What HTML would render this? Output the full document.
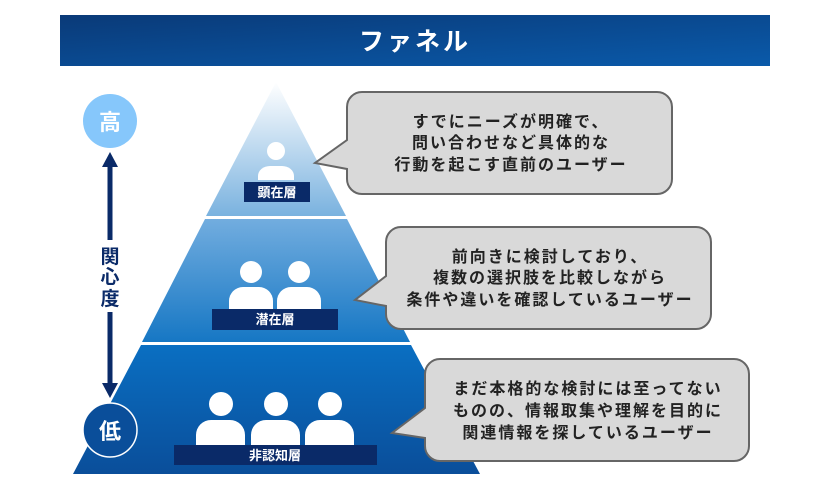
<!DOCTYPE html>
<html><head><meta charset="utf-8"><style>
html,body{margin:0;padding:0;background:#fff;}
svg{display:block;font-family:"Liberation Sans","Noto Sans CJK JP",sans-serif;}
</style></head><body>
<svg width="840" height="490" viewBox="0 0 840 490" xmlns="http://www.w3.org/2000/svg">
<defs>
<linearGradient id="hd" x1="0" y1="0" x2="1" y2="1"><stop offset="0" stop-color="#0a3a78"/><stop offset="1" stop-color="#0a5aaa"/></linearGradient>
<linearGradient id="g1" x1="0" y1="82" x2="0" y2="216" gradientUnits="userSpaceOnUse"><stop offset="0" stop-color="#ffffff"/><stop offset="1" stop-color="#7ab2df"/></linearGradient>
<linearGradient id="g2" x1="0" y1="219" x2="0" y2="342" gradientUnits="userSpaceOnUse"><stop offset="0" stop-color="#72addf"/><stop offset="1" stop-color="#1677c4"/></linearGradient>
<linearGradient id="g3" x1="0" y1="345" x2="0" y2="474" gradientUnits="userSpaceOnUse"><stop offset="0" stop-color="#0a6fc2"/><stop offset="1" stop-color="#0a4e9a"/></linearGradient>
</defs>
<rect x="60" y="15" width="710" height="51" fill="url(#hd)"/>
<text x="415" y="50" text-anchor="middle" fill="#fff" font-size="25" font-weight="bold" letter-spacing="3">ファネル</text>

<polygon points="276,82 346,216 206,216" fill="url(#g1)"/>
<polygon points="205,219 347,219 410,342 142,342" fill="url(#g2)"/>
<polygon points="141,345 411,345 480,474 73,474" fill="url(#g3)"/>

<g fill="#fff">
<circle cx="276" cy="151" r="9"/>
<path d="M258,180 v-4 a12,10 0 0 1 12,-10 h12 a12,10 0 0 1 12,10 v4z"/>
<circle cx="251" cy="272" r="11"/><circle cx="299" cy="272" r="11"/>
<path d="M229,309 v-8 a14,14 0 0 1 14,-14 h16 a14,14 0 0 1 14,14 v8z"/>
<path d="M277,309 v-8 a14,14 0 0 1 14,-14 h16 a14,14 0 0 1 14,14 v8z"/>
<circle cx="221" cy="404" r="12"/><circle cx="276" cy="404" r="12"/><circle cx="330" cy="404" r="12"/>
<path d="M196,445 v-10 a15,15 0 0 1 15,-15 h19 a15,15 0 0 1 15,15 v10z"/>
<path d="M251,445 v-10 a15,15 0 0 1 15,-15 h19 a15,15 0 0 1 15,15 v10z"/>
<path d="M305,445 v-10 a15,15 0 0 1 15,-15 h19 a15,15 0 0 1 15,15 v10z"/>
</g>
<rect x="244" y="182" width="66" height="20" fill="#0a2a68"/>
<text x="277" y="197" text-anchor="middle" fill="#fff" font-size="13" font-weight="bold">顕在層</text>
<rect x="212" y="309" width="126" height="21" fill="#0a2a68"/>
<text x="275" y="324" text-anchor="middle" fill="#fff" font-size="13" font-weight="bold">潜在層</text>
<rect x="174" y="445" width="203" height="20" fill="#0a2a68"/>
<text x="275" y="460" text-anchor="middle" fill="#fff" font-size="13" font-weight="bold">非認知層</text>

<circle cx="110" cy="121" r="27" fill="#86c7fb"/>
<text x="110" y="130" text-anchor="middle" fill="#fff" font-size="22" font-weight="bold">高</text>
<line x1="110" y1="165" x2="110" y2="240" stroke="#0a2a68" stroke-width="5"/>
<polygon points="110,152 102,167 118,167" fill="#0a2a68"/>
<line x1="110" y1="312" x2="110" y2="385" stroke="#0a2a68" stroke-width="5"/>
<polygon points="110,398 102,383 118,383" fill="#0a2a68"/>
<g font-size="19" font-weight="bold" fill="#0a2a68" text-anchor="middle">
<text x="110" y="263">関</text><text x="110" y="283">心</text><text x="110" y="305">度</text></g>
<circle cx="110" cy="430" r="27" fill="#0a4e9a" stroke="#fff" stroke-width="1.5"/>
<text x="110" y="439" text-anchor="middle" fill="#fff" font-size="22" font-weight="bold">低</text>

<g fill="#d9d9d9" stroke="#666" stroke-width="2">
<path d="M362,92 h295 a15,15 0 0 1 15,15 v72 a15,15 0 0 1 -15,15 h-295 a15,15 0 0 1 -15,-15 v-10 l-32,-6 l32,-23 v-33 a15,15 0 0 1 15,-15z"/>
<path d="M401,227 h295 a15,15 0 0 1 15,15 v72 a15,15 0 0 1 -15,15 h-295 a15,15 0 0 1 -15,-15 v-8 l-31,-6 l31,-24 v-34 a15,15 0 0 1 15,-15z"/>
<path d="M440,359 h294 a15,15 0 0 1 15,15 v72 a15,15 0 0 1 -15,15 h-294 a15,15 0 0 1 -15,-15 v-8 l-33,-5 l33,-25 v-34 a15,15 0 0 1 15,-15z"/>
</g>
<g font-size="16" font-weight="bold" fill="#222" text-anchor="middle" letter-spacing="2">
<text x="511" y="127">すでにニーズが明確で、</text>
<text x="511" y="148">問い合わせなど具体的な</text>
<text x="511" y="170">行動を起こす直前のユーザー</text>
<text x="550" y="262">前向きに検討しており、</text>
<text x="550" y="283">複数の選択肢を比較しながら</text>
<text x="550" y="305">条件や違いを確認しているユーザー</text>
<text x="588" y="394">まだ本格的な検討には至ってない</text>
<text x="588" y="416">ものの、情報取集や理解を目的に</text>
<text x="588" y="438">関連情報を探しているユーザー</text>
</g>
</svg>
</body></html>
